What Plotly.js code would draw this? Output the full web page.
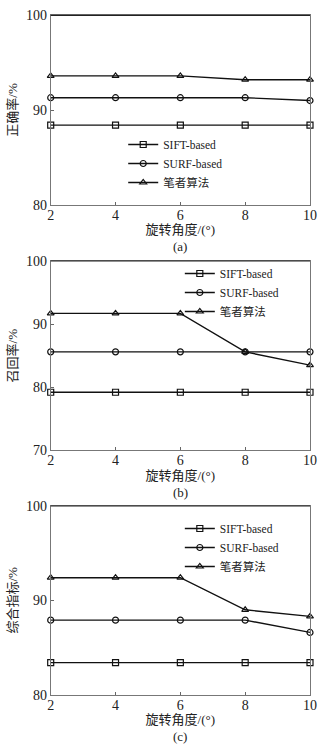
<!DOCTYPE html>
<html>
<head>
<meta charset="utf-8">
<script src="https://cdn.plot.ly/plotly-3.0.1.min.js"></script>
<style>html,body{margin:0;padding:0;background:#fff;}#chart{width:333px;height:746px;}</style>
</head>
<body>
<div id="chart"></div>
<script>
const angles = [2, 4, 6, 8, 10];
const seriesNames = ['SIFT-based', 'SURF-based', '笔者算法'];
// (a) 正确率
const siftA = [88.4, 88.4, 88.4, 88.4, 88.4];
const surfA = [91.3, 91.3, 91.3, 91.3, 91.0];
const oursA = [93.6, 93.6, 93.6, 93.2, 93.2];
// (b) 召回率
const siftB = [79.2, 79.2, 79.2, 79.2, 79.2];
const surfB = [85.6, 85.6, 85.6, 85.6, 85.6];
const oursB = [91.7, 91.7, 91.7, 85.6, 83.5];
// (c) 综合指标
const siftC = [83.4, 83.4, 83.4, 83.4, 83.4];
const surfC = [87.9, 87.9, 87.9, 87.9, 86.6];
const oursC = [92.4, 92.4, 92.4, 89.0, 88.3];
const yTitles = ['正确率/%', '召回率/%', '综合指标/%'];
const xTitle = '旋转角度/(°)';
const captions = ['(a)', '(b)', '(c)'];
const yRanges = [[80, 100], [70, 100], [80, 100]];
const yTicks = [[80, 90, 100], [70, 80, 90, 100], [80, 90, 100]];

const FONT = 'Liberation Serif, Times New Roman, Noto Sans CJK SC, serif';
const symbols = ['square-open', 'circle-open', 'triangle-up-open'];
const panels = [[siftA, surfA, oursA], [siftB, surfB, oursB], [siftC, surfC, oursC]];

const traces = [];
panels.forEach((p, i) => {
  p.forEach((ys, j) => {
    traces.push({
      x: angles, y: ys, type: 'scatter', mode: 'lines+markers',
      name: seriesNames[j],
      xaxis: i === 0 ? 'x' : 'x' + (i + 1),
      yaxis: i === 0 ? 'y' : 'y' + (i + 1),
      legend: i === 0 ? 'legend' : 'legend' + (i + 1),
      line: {color: '#111', width: 1.4},
      marker: {symbol: symbols[j], size: 6, color: '#111', line: {color: '#111', width: 1.2}},
      cliponaxis: false
    });
  });
});

const W = 333, H = 746;
const xDom = [50.7 / W, 310 / W];
const pix = [[15.3, 204.7], [261, 450.3], [506, 694.7]];
const layout = {
  width: W, height: H,
  margin: {l: 0, r: 0, t: 0, b: 0},
  paper_bgcolor: '#fff', plot_bgcolor: '#fff',
  font: {family: FONT, size: 13, color: '#222'},
  annotations: [],
  shapes: []
};
const legPos = [[0.37, 1 - 130 / H], [0.54, 1 - 259 / H], [0.54, 1 - 514 / H]];
pix.forEach((pp, i) => {
  const sfx = i === 0 ? '' : String(i + 1);
  const yd = [1 - pp[1] / H, 1 - pp[0] / H];
  layout['xaxis' + sfx] = {
    domain: xDom, anchor: 'y' + sfx, range: [2, 10],
    tickvals: angles, ticks: 'inside', ticklen: 3, tickcolor: '#666',
    showline: true, linecolor: '#777', linewidth: 1, mirror: true,
    showgrid: false, zeroline: false, ticklabelstandoff: -3,
    tickfont: {family: FONT, size: 14, color: '#222'},
    title: {text: xTitle, font: {family: FONT, size: 13, color: '#222'}, standoff: 2}
  };
  layout['yaxis' + sfx] = {
    domain: yd, anchor: 'x' + sfx, range: yRanges[i],
    tickvals: yTicks[i], ticks: 'inside', ticklen: 3, tickcolor: '#666',
    showline: true, linecolor: '#777', linewidth: 1, mirror: true,
    showgrid: false, zeroline: false,
    tickfont: {family: FONT, size: 14, color: '#222'},
    title: {text: yTitles[i], font: {family: FONT, size: 13, color: '#222'}, standoff: 5}
  };
  layout['legend' + sfx] = {
    x: legPos[i][0], y: legPos[i][1], xanchor: 'left', yanchor: 'top',
    bgcolor: 'rgba(0,0,0,0)', borderwidth: 0,
    font: {family: FONT, size: 11.5, color: '#222'},
    tracegroupgap: 0, itemwidth: 30
  };
  layout.shapes.push({type: 'line', xref: 'paper', yref: 'paper', x0: xDom[0], x1: xDom[1], y0: yd[1], y1: yd[1], line: {color: '#222', width: 1.2}});
  layout.annotations.push({
    text: captions[i], xref: 'paper', yref: 'paper', showarrow: false,
    x: (xDom[0] + xDom[1]) / 2, y: 1 - (pp[1] + 42) / H, yanchor: 'middle',
    font: {family: FONT, size: 13, color: '#222'}
  });
});

Plotly.newPlot('chart', traces, layout, {displayModeBar: false, staticPlot: true});
</script>
</body>
</html>
